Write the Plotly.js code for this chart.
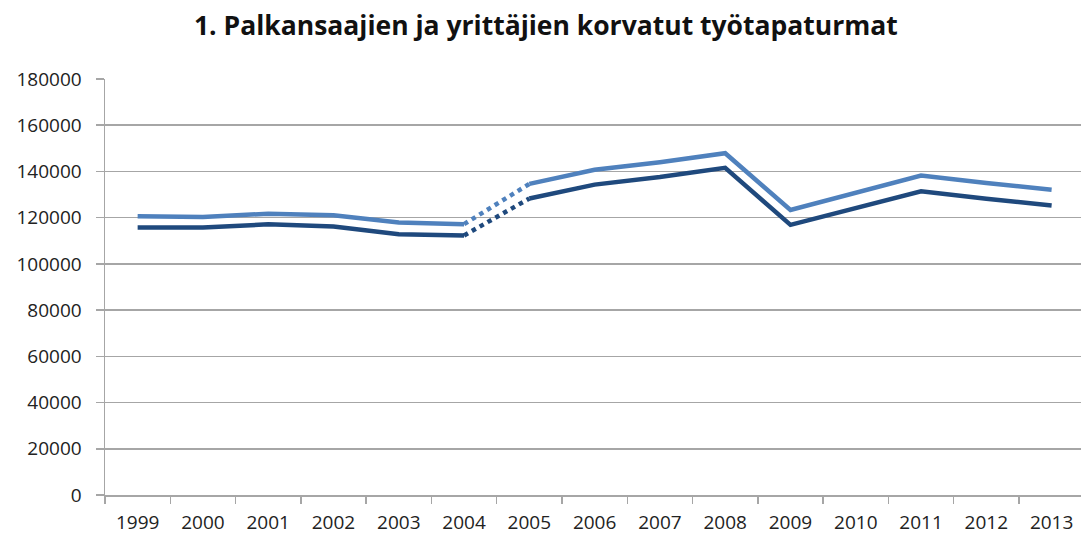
<!DOCTYPE html>
<html>
<head>
<meta charset="utf-8">
<script src="https://cdn.plot.ly/plotly-3.0.1.min.js"></script>
<style>html,body{margin:0;padding:0;background:#fff;}#chart{width:1081px;height:538px;}</style>
</head>
<body>
<div id="chart"></div>
<script>
const years = ["1999","2000","2001","2002","2003","2004","2005","2006","2007","2008","2009","2010","2011","2012","2013"];
const lightValues = [120600, 120300, 121700, 121000, 117900, 117200, 134600, 140700, 144000, 147900, 123300, 130700, 138200, 135000, 132100];
const darkValues  = [115700, 115700, 117100, 116200, 112800, 112300, 128300, 134300, 137600, 141600, 116900, 124200, 131400, 128200, 125300];
const yTicks = [0, 20000, 40000, 60000, 80000, 100000, 120000, 140000, 160000, 180000];
const titleText = "1. Palkansaajien ja yrittäjien korvatut työtapaturmat";

const lightColor = "#4F81BD";
const darkColor = "#1F497D";
const gapStart = 5, gapEnd = 6; // 2004 -> 2005 drawn dotted

function seg(vals, a, b) { return {x: years.slice(a, b + 1), y: vals.slice(a, b + 1)}; }

function traces(vals, color) {
  const s1 = seg(vals, 0, gapStart), s2 = seg(vals, gapStart, gapEnd), s3 = seg(vals, gapEnd, years.length - 1);
  const base = {type: "scatter", mode: "lines", hoverinfo: "x+y", showlegend: false};
  return [
    Object.assign({}, base, s1, {line: {color: color, width: 4.5}}),
    Object.assign({}, base, s2, {line: {color: color, width: 4.5, dash: "dot"}}),
    Object.assign({}, base, s3, {line: {color: color, width: 4.5}})
  ];
}

const data = [].concat(traces(lightValues, lightColor), traces(darkValues, darkColor));

const layout = {
  width: 1081, height: 538,
  margin: {l: 105, r: 0, t: 79, b: 43, pad: 0},
  paper_bgcolor: "#ffffff", plot_bgcolor: "#ffffff",
  font: {family: "Open Sans, sans-serif", color: "#222222", size: 19},
  title: {text: "<b>" + titleText + "</b>", x: 0.505, xanchor: "center", y: 0.953, yanchor: "middle",
          font: {family: "Open Sans, sans-serif", size: 26.5, color: "#111111"}},
  xaxis: {
    type: "category", categoryorder: "array", categoryarray: years,
    range: [-0.5, 14.45], tickson: "boundaries",
    showgrid: false, showline: true, linecolor: "#a6a6a6", linewidth: 1.5,
    ticks: "outside", ticklen: 7, tickcolor: "#a6a6a6", tickwidth: 1.5,
    ticklabelstandoff: 10,
    tickfont: {size: 19, color: "#222222"}, zeroline: false, fixedrange: true
  },
  yaxis: {
    range: [0, 180000], tickvals: yTicks, ticktext: yTicks.map(String),
    showgrid: true, gridcolor: "#a6a6a6", gridwidth: 1.5,
    showline: true, linecolor: "#a6a6a6", linewidth: 1.5,
    ticks: "outside", ticklen: 8, tickcolor: "#a6a6a6", tickwidth: 1.5,
    ticklabelstandoff: 10,
    tickfont: {size: 19, color: "#222222"}, zeroline: false, fixedrange: true
  }
};

Plotly.newPlot("chart", data, layout, {displayModeBar: false, staticPlot: true});
</script>
</body>
</html>
